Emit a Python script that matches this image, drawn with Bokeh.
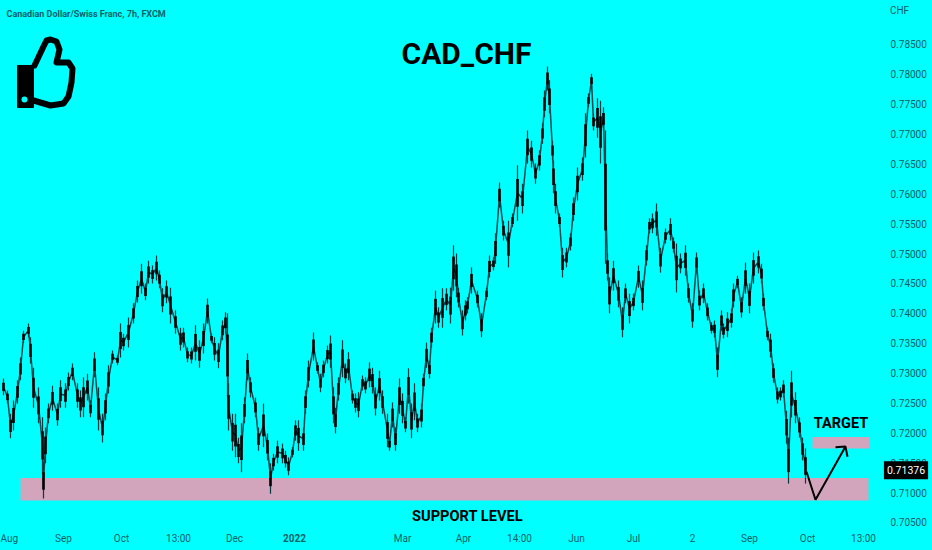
from bokeh.embed import file_html
from bokeh.resources import INLINE
from bokeh.plotting import figure
from bokeh.models import Range1d, FixedTicker, LinearAxis, Label, NumeralTickFormatter, ColumnDataSource

bar_x = [3,7,10,13,17,20,23,28,30,33,38,42,43,45,48,52,57,60,65,68,72,77,80,83,87,90,94,98,102,105,108,112,117,120,123,128,133,137,141,145,148,152,156,159,162,166,170,175,180,183,187,191,195,199,203,207,211,214,218,222,225,227,228,232,235,238,241,244,247,250,255,258,263,267,270,273,277,282,285,288,292,295,298,303,305,308,313,317,320,323,327,330,333,335,338,342,345,348,352,355,358,362,365,369,372,375,379,382,387,389,392,395,399,402,405,408,411,414,417,421,423,426,429,431,435,438,442,446,450,453,456,458,462,465,467,471,477,481,486,489,493,495,499,503,508,512,517,522,527,531,535,539,542,544,547,549,552,553,555,559,562,566,570,573,577,582,585,588,591,593,597,600,603,605,607,609,613,618,622,625,629,633,638,642,646,649,652,656,660,665,670,673,676,680,685,688,692,696,699,703,707,711,714,717,721,723,727,731,733,737,741,745,749,753,758,761,763,767,770,773,777,780,783,786,788,791,795,799,802,805]
highs = [.7291,.7271,.7232,.7254,.7288,.7326,.7371,.7383,.7360,.7309,.7276,.7226,.7149,.7209,.7249,.7279,.7249,.7288,.7283,.7301,.7316,.7283,.7271,.7293,.7299,.7254,.7335,.7276,.7232,.7266,.7313,.7338,.7330,.7383,.7366,.7393,.7417,.7455,.7483,.7450,.7488,.7480,.7497,.7472,.7442,.7455,.7443,.7405,.7376,.7376,.7343,.7343,.7380,.7355,.7383,.7425,.7366,.7360,.7350,.7388,.7402,.7400,.7283,.7232,.7232,.7192,.7216,.7259,.7333,.7293,.7259,.7209,.7249,.7199,.7149,.7165,.7187,.7182,.7170,.7159,.7176,.7221,.7221,.7209,.7271,.7321,.7368,.7318,.7299,.7321,.7346,.7363,.7276,.7242,.7293,.7355,.7316,.7335,.7271,.7266,.7268,.7296,.7293,.7318,.7309,.7276,.7304,.7271,.7232,.7192,.7251,.7209,.7291,.7266,.7226,.7308,.7249,.7283,.7232,.7249,.7299,.7351,.7321,.7376,.7438,.7410,.7442,.7442,.7443,.7514,.7500,.7443,.7405,.7422,.7427,.7477,.7438,.7400,.7443,.7497,.7494,.7534,.7619,.7555,.7555,.7567,.7648,.7617,.7706,.7689,.7651,.7673,.7718,.7773,.7813,.7790,.7689,.7656,.7617,.7567,.7510,.7510,.7534,.7594,.7644,.7661,.7735,.7768,.7801,.7735,.7760,.7756,.7745,.7706,.7500,.7460,.7488,.7455,.7410,.7450,.7433,.7433,.7480,.7455,.7514,.7559,.7567,.7584,.7510,.7542,.7559,.7527,.7517,.7500,.7514,.7450,.7417,.7502,.7438,.7450,.7417,.7385,.7388,.7343,.7405,.7383,.7402,.7408,.7450,.7463,.7427,.7485,.7450,.7502,.7505,.7483,.7433,.7376,.7366,.7316,.7276,.7276,.7288,.7237,.7192,.7304,.7268,.7226,.7192,.7174]
lows = [.7263,.7249,.7191,.7204,.7249,.7288,.7350,.7360,.7316,.7242,.7216,.7132,.7090,.7149,.7216,.7237,.7212,.7242,.7242,.7271,.7288,.7242,.7226,.7226,.7254,.7226,.7293,.7204,.7184,.7221,.7266,.7316,.7313,.7326,.7338,.7343,.7383,.7418,.7433,.7422,.7450,.7450,.7455,.7442,.7402,.7417,.7383,.7366,.7338,.7343,.7318,.7316,.7321,.7309,.7333,.7383,.7350,.7321,.7308,.7355,.7366,.7259,.7204,.7170,.7159,.7149,.7134,.7216,.7288,.7259,.7226,.7170,.7176,.7154,.7098,.7137,.7149,.7149,.7142,.7129,.7159,.7187,.7170,.7170,.7232,.7276,.7321,.7299,.7268,.7293,.7316,.7309,.7216,.7199,.7254,.7293,.7283,.7288,.7249,.7234,.7226,.7271,.7266,.7276,.7266,.7229,.7254,.7232,.7176,.7170,.7209,.7170,.7232,.7216,.7201,.7249,.7191,.7221,.7201,.7209,.7271,.7309,.7291,.7343,.7383,.7376,.7376,.7405,.7383,.7438,.7427,.7410,.7363,.7388,.7400,.7433,.7410,.7360,.7422,.7460,.7472,.7483,.7577,.7522,.7477,.7544,.7555,.7567,.7651,.7644,.7617,.7639,.7684,.7728,.7773,.7735,.7656,.7601,.7567,.7544,.7460,.7477,.7505,.7555,.7589,.7622,.7661,.7745,.7778,.7706,.7694,.7651,.7706,.7483,.7455,.7400,.7438,.7410,.7360,.7417,.7383,.7405,.7443,.7405,.7480,.7534,.7534,.7530,.7468,.7517,.7522,.7502,.7435,.7467,.7463,.7418,.7376,.7468,.7405,.7417,.7388,.7366,.7360,.7293,.7371,.7358,.7360,.7376,.7410,.7442,.7393,.7433,.7400,.7450,.7467,.7450,.7405,.7355,.7326,.7284,.7249,.7254,.7259,.7182,.7115,.7226,.7216,.7192,.7154,.7115]

y_ticks = [0.705,0.71,0.715,0.72,0.725,0.73,0.735,0.74,0.745,0.75,0.755,0.76,0.765,0.77,0.775,0.78,0.785]
x_ticks = [5,63,121,178,234,294,402,463,519,576,633,692,749,807,863]
x_labels = ["Aug","Sep","Oct","13:00","Dec","","Mar","Apr","14:00","Jun","Jul","2","Sep","Oct","13:00"]

support_x = [20,868]; support_price = [.70868,.71245]
target_x = [812,869]; target_price = [.7174,.7193]
arrow_x = [806,815,845]; arrow_price = [.7135,.7088,.7177]
head_x = [835,845,847]; head_price = [.7176,.7177,.7160]
last_price = 0.71376

# decorative icon outline, in picture pixels
cuff_x = [17,33,33,17]; cuff_y = [65,65,107,107]
hand_x = [34,43,46,50,56,59,56,68,72,71,68,63,50,33]
hand_y = [65,46,40,39,41,49,62,62,68,82,96,103,105,100]

BG = "#00ffff"; TICK = "#0b5f69"; PINK = "#d3a5bd"

p = figure(width=932, height=550, output_backend="svg", toolbar_location=None,
           x_range=Range1d(0,932), y_range=Range1d(0.70031,0.79236),
           x_axis_type=None, y_axis_type=None,
           min_border_left=0, min_border_top=0, min_border_right=0, min_border_bottom=0,
           background_fill_color=BG, border_fill_color=BG, outline_line_color=None)
p.grid.visible = False
p.extra_y_ranges["px"] = Range1d(550,0)

yax = LinearAxis(ticker=FixedTicker(ticks=y_ticks), formatter=NumeralTickFormatter(format="0.00000"), fixed_location=882)
xax = LinearAxis(ticker=FixedTicker(ticks=x_ticks), major_label_overrides={t:l for t,l in zip(x_ticks,x_labels)}, fixed_location=0.70466)
for ax in (xax,yax):
    ax.axis_line_color=None; ax.major_tick_line_color=None; ax.minor_tick_line_color=None
    ax.major_tick_out=0; ax.major_tick_in=0; ax.minor_tick_out=0; ax.minor_tick_in=0
    ax.major_label_text_color=TICK; ax.major_label_text_font="Roboto"; ax.major_label_text_font_size="10px"
yax.major_label_standoff=8
xax.major_label_standoff=8
p.add_layout(yax,"right"); p.add_layout(xax,"below")

p.quad(left=[support_x[0],target_x[0]], right=[support_x[1],target_x[1]],
       bottom=[support_price[0],target_price[0]], top=[support_price[1],target_price[1]],
       fill_color=PINK, line_color=None)

mids=[(h+l)/2 for h,l in zip(highs,lows)]
rng=[(h-l)/4 for h,l in zip(highs,lows)]
src=ColumnDataSource(dict(x=bar_x,h=highs,l=lows,m=mids,
                          bh=[m+r for m,r in zip(mids,rng)],bl=[m-r for m,r in zip(mids,rng)]))
p.line("x","m",source=src,line_color="#0a4850",line_width=1.5)
p.segment("x","h","x","l",source=src,line_color="#08393f",line_width=1.2)
p.segment("x","bh","x","bl",source=src,line_color="#000000",line_width=2.6)

p.line(arrow_x,arrow_price,line_color="black",line_width=2)
p.line(head_x,head_price,line_color="black",line_width=2)

p.patch(cuff_x,cuff_y,y_range_name="px",fill_color="black",line_color="black",line_width=1)
p.line(hand_x,hand_y,y_range_name="px",line_color="black",line_width=6,line_join="round",line_cap="round")
p.scatter([24],[99],y_range_name="px",size=6,fill_color=BG,line_color=None)

def lab(x,y,text,size,color="black",style="bold",font="Roboto",align="center"):
    p.add_layout(Label(x=x,y=y,y_range_name="px",text=text,text_font=font,text_font_size=size,
                       text_font_style=style,text_color=color,text_align=align,text_baseline="middle"))

lab(466,53,"CAD_CHF","30px")
lab(467,515,"SUPPORT LEVEL","14.6px")
lab(840.5,423,"TARGET","14.5px")
lab(6,13,"Canadian Dollar/Swiss Franc, 7h, FXCM","9px",color=TICK,align="left")
lab(899,10,"CHF","10px",color=TICK,style="normal")
lab(294,537,"2022","10px",color=TICK)
p.add_layout(Label(x=905.5,y=last_price,text="0.71376",text_font="Roboto",text_font_size="10.5px",
                   text_color="white",text_align="center",text_baseline="middle",
                   background_fill_color="#000000",padding=(3,5)))

html = file_html(p, INLINE)
html = html.replace("<head>","<head><style>html,body{margin:0;overflow:hidden;background:#00ffff}</style>",1)
open("out.html","w").write(html)
